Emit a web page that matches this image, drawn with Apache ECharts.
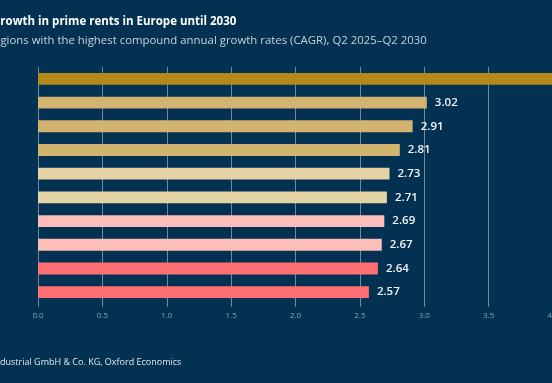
<!DOCTYPE html>
<html>
<head>
<meta charset="utf-8">
<script src="https://cdn.jsdelivr.net/npm/echarts@6/dist/echarts.min.js"></script>
<style>
html,body{margin:0;padding:0;background:#023152;}
#c{width:552px;height:383px;}
</style>
</head>
<body>
<div id="c"></div>
<script>
const categories = ['1','2','3','4','5','6','7','8','9','10'];
const values = [4.3, 3.02, 2.91, 2.81, 2.73, 2.71, 2.69, 2.67, 2.64, 2.57];
const barColors = ['#b3891c','#d2b36f','#d2b36f','#d2b36f','#e5d2a5','#e5d2a5','#fdbdb8','#fdbdb8','#fd6f73','#fd6f73'];
const xTicks = [0, 0.5, 1, 1.5, 2, 2.5, 3, 3.5, 4];
const titleText = 'Growth in prime rents in Europe until 2030';
const subtitleText = 'Regions with the highest compound annual growth rates (CAGR), Q2 2025–Q2 2030';
const sourceText = 'Industrial GmbH & Co. KG, Oxford Economics';

const chart = echarts.init(document.getElementById('c'), null, {renderer:'canvas'});
chart.setOption({
  backgroundColor: '#023152',
  animation: false,
  textStyle: {fontFamily: 'Open Sans'},
  graphic: [
    {type:'text', x:-8, y:16, style:{text:titleText, fill:'#ffffff', font:'bold 11.5px "Open Sans"'}},
    {type:'text', x:-13, y:35, style:{text:subtitleText, fill:'#c9d2dc', font:'11.4px "Open Sans"'}},
    {type:'text', x:-8, y:358, style:{text:sourceText, fill:'#e3e8ee', font:'9px "Open Sans"'}}
  ],
  grid: {left:38, width:515, top:67, height:237, containLabel:false, outerBoundsMode:'none'},
  xAxis: {
    type:'value', min:0, max:4, interval:0.5,
    axisLine:{show:false},
    axisTick:{show:true, length:3, lineStyle:{color:'#7389a0'}},
    splitLine:{show:true, lineStyle:{color:'#7389a0', width:1}},
    axisLabel:{color:'#8ea1b5', fontSize:8, margin:8, formatter:v=>v.toFixed(1)}
  },
  yAxis: {
    type:'category', data:categories, inverse:true,
    axisLine:{show:false}, axisTick:{show:false}, axisLabel:{show:false}
  },
  series: [{
    type:'bar',
    data: values.map((v,i)=>({value:v, itemStyle:{color:barColors[i]}})),
    barWidth:'50%',
    label:{show:true, position:'right', distance:8, color:'#f4f6f8', fontSize:11.5, fontWeight:600, fontFamily:'Open Sans', formatter:p=>p.value.toFixed(2)}
  }]
});
</script>
</body>
</html>
